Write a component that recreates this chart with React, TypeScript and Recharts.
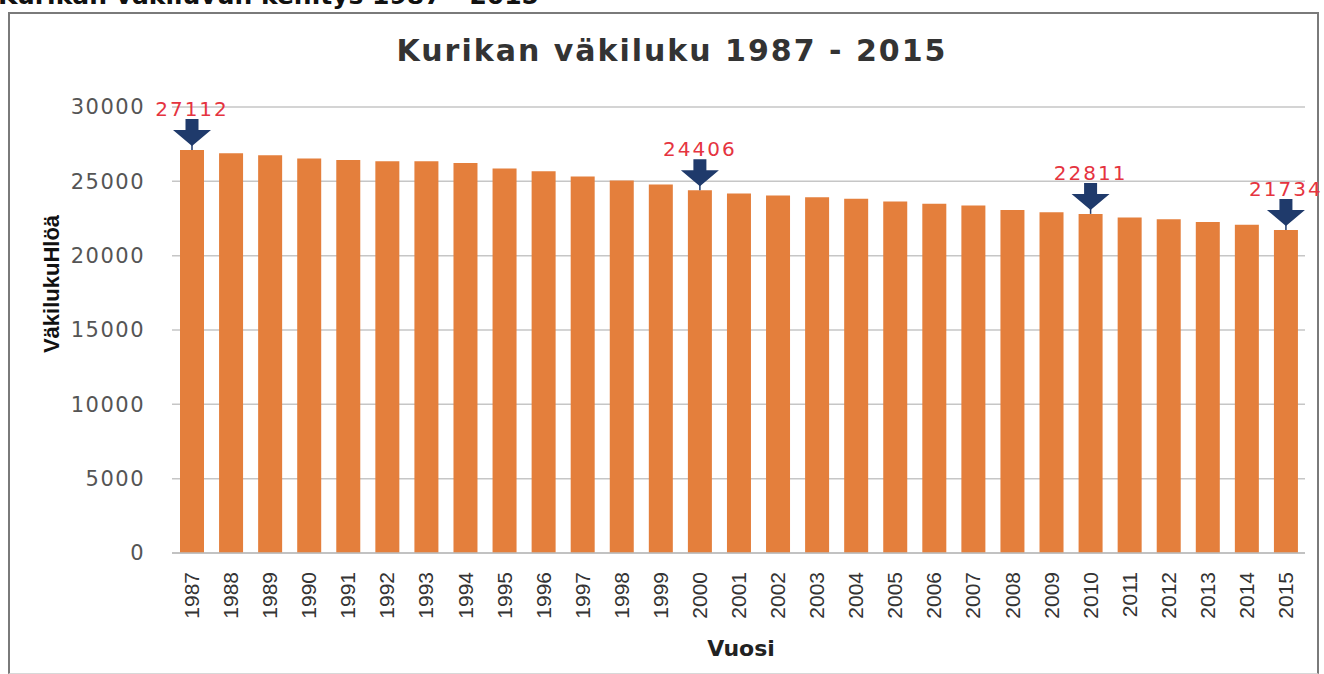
import { BarChart, Bar, XAxis, YAxis, CartesianGrid, LabelList } from "recharts";

const YEARS = [
  "1987", "1988", "1989", "1990", "1991", "1992", "1993", "1994", "1995", "1996",
  "1997", "1998", "1999", "2000", "2001", "2002", "2003", "2004", "2005", "2006",
  "2007", "2008", "2009", "2010", "2011", "2012", "2013", "2014", "2015",
];

const POPULATION = [
  27112, 26890, 26750, 26530, 26440, 26350, 26350, 26230, 25860, 25680,
  25320, 25050, 24780, 24406, 24180, 24050, 23930, 23830, 23650, 23490,
  23380, 23070, 22920, 22811, 22560, 22450, 22270, 22080, 21734,
];

// years that get the red value + blue arrow
const MARKED_YEARS = ["1987", "2000", "2010", "2015"];

const Y_TICKS = [0, 5000, 10000, 15000, 20000, 25000, 30000];

const data = YEARS.map((year, i) => ({ year, value: POPULATION[i] }));

const ORANGE = "#E47F3C";
const NAVY = "#1F3A6B";
const RED = "#E5343F";

function YearTick(props: any) {
  const { x, y, payload } = props;
  return (
    <text
      x={x}
      y={y + 19}
      dy="0.36em"
      textAnchor="end"
      transform={`rotate(-90, ${x}, ${y + 19})`}
      fill="#333"
      fontSize={21}
      fontFamily="'Liberation Sans Narrow', 'Liberation Sans', sans-serif"
    >
      {payload.value}
    </text>
  );
}

function renderMarker(props: any) {
  const { x, y, width, index, value } = props;
  if (!MARKED_YEARS.includes(YEARS[index])) return null;
  const cx = Number(x) + Number(width) / 2;
  const top = Number(y);
  const arrow = `M${cx - 6.5},${top - 31} H${cx + 6.5} V${top - 20} H${cx + 19} L${cx},${top - 4} L${cx - 19},${top - 20} H${cx - 6.5} Z`;
  return (
    <g key={`m-${index}`}>
      <line x1={cx} x2={cx} y1={top - 6} y2={top} stroke={NAVY} strokeWidth={1.5} />
      <path d={arrow} fill={NAVY} />
      <text
        x={cx}
        y={top - 41}
        dy="0.36em"
        textAnchor="middle"
        fill={RED}
        fontSize={20}
        letterSpacing={2}
        fontFamily="'DejaVu Sans', sans-serif"
      >
        {value}
      </text>
    </g>
  );
}

export default function App() {
  return (
    <div
      style={{
        position: "absolute",
        top: 0,
        left: 0,
        width: 1324,
        height: 674,
        overflow: "hidden",
        background: "#fff",
        fontFamily: "'DejaVu Sans', sans-serif",
      }}
    >
      {/* page heading, mostly cut off by the scan */}
      <div
        style={{
          position: "absolute",
          top: -17,
          left: -2,
          fontSize: 25,
          fontWeight: "bold",
          lineHeight: 1,
          color: "#111",
          whiteSpace: "nowrap",
        }}
      >
        Kurikan väkiluvun kehitys 1987 - 2015
      </div>
      <div
        style={{
          position: "absolute",
          top: 12,
          left: 8,
          width: 1311,
          height: 662,
          borderTop: "2px solid #7a7a7a",
          borderLeft: "2px solid #7a7a7a",
          borderRight: "2px solid #7a7a7a",
          borderBottom: "1px solid #d8d8d8",
          boxSizing: "border-box",
        }}
      />
      <div
        style={{
          position: "absolute",
          top: 33,
          left: 0,
          width: 1344,
          textAlign: "center",
          fontSize: 30,
          letterSpacing: 2,
          fontWeight: "bold",
          color: "#333",
          lineHeight: 1.2,
        }}
      >
        Kurikan väkiluku 1987 - 2015
      </div>
      <div
        style={{
          position: "absolute",
          left: 52,
          top: 284,
          transform: "translate(-50%, -50%) rotate(-90deg)",
          fontSize: 22,
          fontWeight: "bold",
          fontFamily: "'Liberation Sans', sans-serif",
          color: "#111",
          whiteSpace: "nowrap",
        }}
      >
        VäkilukuHlöä
      </div>
      <div
        style={{
          position: "absolute",
          left: 741,
          top: 648,
          transform: "translate(-50%, -50%)",
          fontSize: 22,
          fontWeight: "bold",
          color: "#222",
          whiteSpace: "nowrap",
        }}
      >
        Vuosi
      </div>
      <div style={{ position: "absolute", top: 0, left: 0 }}>
        <BarChart
          width={1324}
          height={674}
          data={data}
          margin={{ top: 107, right: 19, bottom: 0, left: 0 }}
          barSize={24}
        >
          <CartesianGrid vertical={false} stroke="#c6c6c6" strokeWidth={1.5} />
          <XAxis
            dataKey="year"
            interval={0}
            height={121}
            tickLine={false}
            tickSize={0}
            tickMargin={0}
            axisLine={{ stroke: "#bdbdbd", strokeWidth: 1.5 }}
            tick={<YearTick />}
          />
          <YAxis
            domain={[0, 30000]}
            ticks={Y_TICKS}
            width={172}
            axisLine={false}
            tickLine={false}
            tickSize={0}
            tickMargin={27}
            tick={{ fill: "#555", fontSize: 21, letterSpacing: 1.5, fontFamily: "'DejaVu Sans', sans-serif" }}
          />
          <Bar dataKey="value" fill={ORANGE} isAnimationActive={false}>
            <LabelList dataKey="value" content={renderMarker} />
          </Bar>
        </BarChart>
      </div>
    </div>
  );
}
